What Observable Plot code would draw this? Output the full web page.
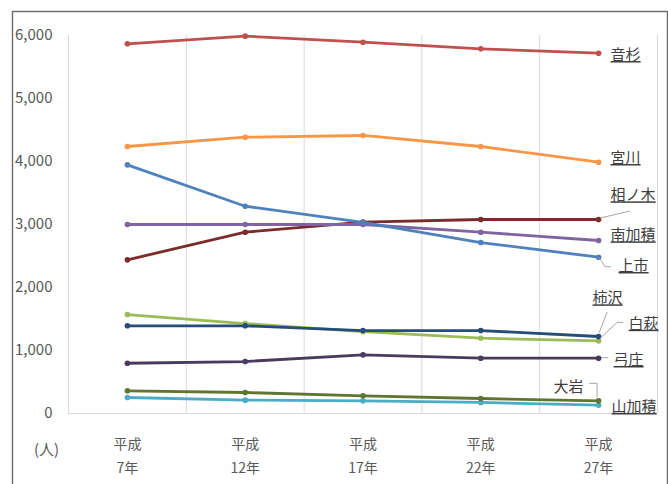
<!DOCTYPE html>
<html>
<head>
<meta charset="utf-8">
<script src="https://cdn.jsdelivr.net/npm/d3@7"></script>
<script src="https://cdn.jsdelivr.net/npm/@observablehq/plot@0.6"></script>
<style>
  html, body { margin: 0; padding: 0; background: #fff; }
  #chart svg { display: block; }
</style>
</head>
<body>
<div id="chart"></div>
<script>
// ---- data ----
const eraLabel = "平成";
const yearLabels = ["7年", "12年", "17年", "22年", "27年"];
const yTicks = [0, 1000, 2000, 3000, 4000, 5000, 6000];
const unitLabel = "(人)";

const seriesNames = ["山加積", "大岩", "弓庄", "白萩", "柿沢", "相ノ木", "南加積", "上市", "宮川", "音杉"];
const yamakazumi   = [254, 212, 201, 175, 132];
const oiwa         = [360, 333, 281, 238, 201];
const yumishou     = [798, 825, 931, 878, 878];
const shirahagi    = [1571, 1428, 1300, 1195, 1153];
const kakizawa     = [1392, 1392, 1317, 1317, 1222];
const ainoki       = [2439, 2878, 3037, 3079, 3079];
const minamikazumi = [3000, 3000, 3000, 2878, 2746];
const kamiichi     = [3947, 3290, 3032, 2714, 2481];
const miyakawa     = [4238, 4386, 4413, 4238, 3989];
const otosugi      = [5868, 5990, 5894, 5788, 5719];
const seriesValues = [yamakazumi, oiwa, yumishou, shirahagi, kakizawa, ainoki, minamikazumi, kamiichi, miyakawa, otosugi];

// ---- styles ----
const seriesColors = ["#4BACC6", "#5F7530", "#4B3A5E", "#9BBB59", "#264C78", "#7B2B2B", "#8064A2", "#4F81BD", "#F79646", "#C0504D"];
const underlined = ["音杉", "宮川", "相ノ木", "南加積", "上市", "柿沢", "白萩", "弓庄", "山加積"];
// label offsets (px) relative to the last point of each series
const labelStyle = {
  "音杉":   {dx: 12, dy: 2,   anchor: "start"},
  "宮川":   {dx: 12, dy: -4,  anchor: "start"},
  "相ノ木": {dx: 12, dy: -24, anchor: "start"},
  "南加積": {dx: 12, dy: -5,  anchor: "start"},
  "上市":   {dx: 20, dy: 9,   anchor: "start"},
  "柿沢":   {dx: -6, dy: -38, anchor: "start"},
  "白萩":   {dx: 30, dy: -17, anchor: "start"},
  "弓庄":   {dx: 15, dy: 2,   anchor: "start"},
  "大岩":   {dx: -15, dy: -14, anchor: "end"},
  "山加積": {dx: 13, dy: 2,   anchor: "start"}
};
// leader line offsets (px) relative to the last point
const leaderStyle = {
  "相ノ木": [[2, -1], [32, -8]],
  "上市":   [[1, 1], [7, 10], [13, 10]],
  "柿沢":   [[1, -3], [9, -24]],
  "白萩":   [[2, -2], [19, -18], [25, -18]],
  "弓庄":   [[3, 0], [10, 0]],
  "大岩":   [[-9, -17], [-1, -17], [-1, -3]]
};

// ---- build table ----
const idx = yearLabels.map((_, i) => i);
const rows = [];
seriesNames.forEach((name, s) => {
  seriesValues[s].forEach((v, i) => rows.push({name, i, v}));
});
const lastPoints = seriesNames.map((name, s) => ({name, i: idx.length - 1, v: seriesValues[s][idx.length - 1]}));
const boundaries = d3.range(-0.5, idx.length, 1);

const axisFont = "'Liberation Sans Narrow', 'Noto Sans CJK JP', sans-serif";
const labelFont = "'Noto Sans CJK JP', sans-serif";

const labelMarks = lastPoints.map(p => {
  const st = labelStyle[p.name];
  return Plot.text([p], {
    x: "i", y: "v", text: "name",
    dx: st.dx, dy: st.dy, textAnchor: st.anchor, lineAnchor: "middle",
    fill: "#404040", fontSize: 15, fontFamily: labelFont
  });
});

const plot = Plot.plot({
  width: 668,
  height: 484,
  marginLeft: 68,
  marginRight: 11,
  marginTop: 35,
  marginBottom: 71,
  style: {background: "#fff", overflow: "visible"},
  x: {type: "linear", domain: [-0.5, idx.length - 0.5], axis: null},
  y: {domain: [0, 6000], axis: null},
  color: {domain: seriesNames, range: seriesColors},
  marks: [
    Plot.frame({stroke: "#6b6b6b", strokeWidth: 1.4, insetLeft: -56, insetTop: -24, insetRight: -10, insetBottom: -90}),
    Plot.ruleX(boundaries, {stroke: "#d9d9d9", strokeWidth: 1}),
    Plot.ruleY([0], {stroke: "#d9d9d9", strokeWidth: 1}),
    Plot.axisY(yTicks, {
      tickSize: 0, tickPadding: 16, tickFormat: d3.format(","),
      fontSize: 15, fontFamily: axisFont, fill: "#595959", label: null
    }),
    Plot.text(idx, {
      x: d => d, frameAnchor: "bottom", dy: 40, lineAnchor: "middle",
      text: d => eraLabel + "\n" + yearLabels[d], lineHeight: 1.72,
      fontSize: 14, fontFamily: axisFont, fill: "#595959"
    }),
    Plot.text([unitLabel], {
      frameAnchor: "bottom-left", dx: -22, dy: 37, text: d => d,
      textAnchor: "middle", lineAnchor: "middle",
      fontSize: 15, fontFamily: axisFont, fill: "#595959"
    }),
    Plot.line(rows, {x: "i", y: "v", z: "name", stroke: "name", strokeWidth: 2.8, curve: "linear"}),
    Plot.dot(rows, {x: "i", y: "v", fill: "name", r: 2.8, stroke: null}),
    ...labelMarks
  ]
});

document.getElementById("chart").appendChild(plot);

// underline labels
plot.querySelectorAll("text").forEach(t => {
  if (underlined.includes(t.textContent)) t.setAttribute("text-decoration", "underline");
});

// leader lines drawn from the plot's own scales
const sx = plot.scale("x"), sy = plot.scale("y");
const g = d3.select(plot).append("g").attr("fill", "none").attr("stroke", "#a6a6a6").attr("stroke-width", 1);
lastPoints.forEach(p => {
  const pts = leaderStyle[p.name];
  if (!pts) return;
  const px = sx.apply(p.i), py = sy.apply(p.v);
  g.append("path").attr("d", d3.line()(pts.map(([ox, oy]) => [px + ox, py + oy])));
});
</script>
</body>
</html>
